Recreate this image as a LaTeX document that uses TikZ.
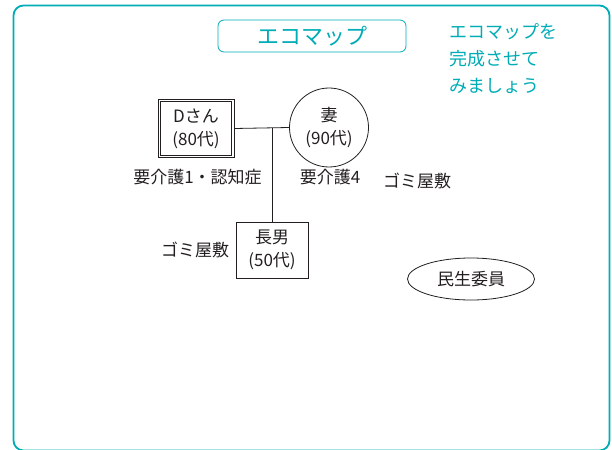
\documentclass[tikz,border=0pt]{standalone}
\usepackage{fontspec}
\setmainfont{Noto Sans CJK JP}
\usepackage{tikz}
\usetikzlibrary{shapes.geometric, positioning}
\usepackage{xcolor}
\definecolor{ecoteal}{RGB}{0, 172, 182}
\definecolor{ink}{RGB}{35, 31, 32}
\tikzset{
    frame/.style={draw=ecoteal, line width=1.8pt, rounded corners=10pt},
    titlebox/.style={rectangle, rounded corners=6pt, draw=ecoteal, line width=0.8pt, minimum width=188pt, minimum height=32pt, text=ecoteal, font=\fontsize{22}{24}\selectfont},
    note/.style={align=left, inner sep=0pt, text=ecoteal, font=\fontsize{18}{27}\selectfont},
    person/.style={rectangle, draw=ink, line width=0.8pt, align=center, text=ink, inner sep=0pt, font=\fontsize{17}{23}\selectfont},
    female/.style={circle, draw=ink, line width=0.8pt, align=center, text=ink, inner sep=0pt, minimum size=79pt, font=\fontsize{17}{23}\selectfont},
    resource/.style={ellipse, draw=ink, line width=0.8pt, text=ink, inner sep=0pt, minimum width=127pt, minimum height=42pt, font=\fontsize{17}{20}\selectfont},
    remark/.style={inner sep=0pt, text=ink, font=\fontsize{17}{20}\selectfont},
    tie/.style={draw=ink, line width=0.8pt}
}

\begin{document}
\begin{tikzpicture}[x=1pt, y=-1pt]
    \useasboundingbox (0,0) rectangle (612,449);

    % Frame and title
    \draw[frame] (13.5,5.5) rectangle (609.5,450.5);
    \node[titlebox] (title) at (312,36) {エコマップ};
    \node[note, anchor=north west] (hint) at (449,23.5) {エコマップを\\完成させて\\みましょう};

    % Family
    \node[person, minimum width=76pt, minimum height=58pt] (dsan) at (196,128.5) {Dさん\\(80代)};
    \draw[tie] ([shift={(2.8,2.8)}]dsan.north west) rectangle ([shift={(-2.8,-2.8)}]dsan.south east);
    \node[female] (wife) at (329,127.5) {妻\\(90代)};
    \node[person, minimum width=72pt, minimum height=56pt] (son) at (272,250) {長男\\(50代)};

    % Notes
    \node[remark] (dcare) at (197.5,177) {要介護1・認知症};
    \node[remark] (wcare) at (330,177) {要介護4};
    \node[remark] (whouse) at (417,181) {ゴミ屋敷};
    \node[remark] (shouse) at (195,250) {ゴミ屋敷};

    % Resources
    \node[resource] (welfare) at (471,279) {民生委員};

    % Lines
    \draw[tie] (dsan.east) -- (wife.west);
    \draw[tie] (son.north |- dsan.east) -- (son.north);
\end{tikzpicture}
\end{document}
